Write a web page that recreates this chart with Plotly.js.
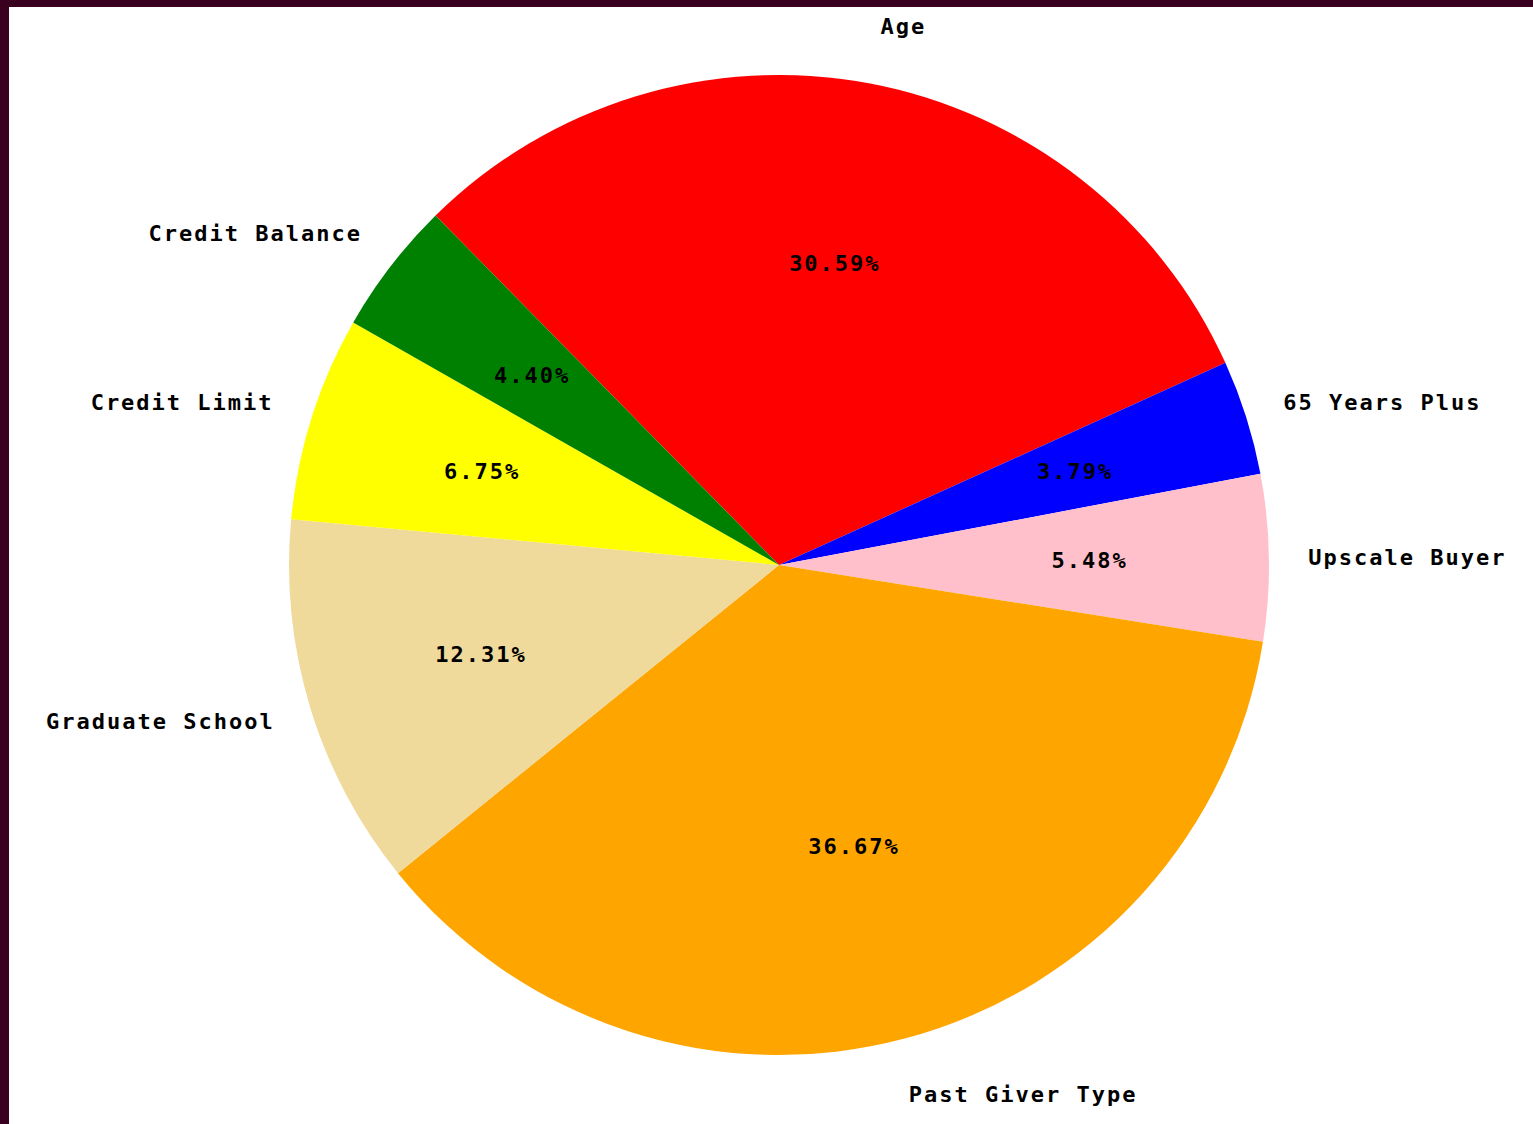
<!DOCTYPE html>
<html>
<head>
<meta charset="utf-8">
<script src="https://cdn.plot.ly/plotly-3.0.1.min.js"></script>
<style>
  html, body { margin: 0; padding: 0; background: #3a0020; }
  #chart { width: 1533px; height: 1124px; }
  #chart text { letter-spacing: 2px; }
</style>
</head>
<body>
<div id="chart"></div>
<script>
// Data
const categories = ["Age", "65 Years Plus", "Upscale Buyer", "Past Giver Type", "Graduate School", "Credit Limit", "Credit Balance"];
const shares = [30.59, 3.79, 5.48, 36.67, 12.31, 6.75, 4.40];
const sliceColors = ["#FF0000", "#0000FF", "#FFC0CB", "#FFA500", "#EFD99B", "#FFFF00", "#008000"];

const W = 1533, H = 1124;
const cx = 779, cy = 565;
const rPie = 490, rLab = 536, rText = 311;
const startRotation = -44.5;
const fontFam = "'DejaVu Sans Mono', 'Liberation Mono', monospace";
const textFont = { family: fontFam, size: 22, color: "#000000", weight: "bold" };
const clear = categories.map(() => "rgba(0,0,0,0)");

function dom(r) {
  return {
    x: [Math.max(0, (cx - r) / W), Math.min(1, (cx + r) / W)],
    y: [Math.max(0, 1 - (cy + r) / H), Math.min(1, 1 - (cy - r) / H)]
  };
}
function basePie(r) {
  return {
    type: "pie",
    labels: categories,
    values: shares,
    sort: false,
    direction: "clockwise",
    rotation: startRotation,
    domain: dom(r),
    hoverinfo: "none",
    showlegend: false
  };
}

const traces = [];

// coloured slices
traces.push(Object.assign(basePie(rPie), {
  marker: { colors: sliceColors, line: { width: 0 } },
  textinfo: "none"
}));

// category labels outside the pie
traces.push(Object.assign(basePie(rLab), {
  marker: { colors: clear, line: { width: 0 } },
  textinfo: "label",
  textposition: "outside",
  outsidetextfont: textFont
}));

// percentage labels: one transparent ring per slice, sized so the text
// sits at a common distance from the centre
const total = shares.reduce((a, b) => a + b, 0);
categories.forEach((c, i) => {
  const half = Math.PI * shares[i] / total;
  const rIns = Math.min(1 / (1 + 1 / Math.sin(half)), 0.5);
  const rT = Math.min(rText / (1 - rIns), H - cy - 1);
  traces.push(Object.assign(basePie(rT), {
    marker: { colors: clear, line: { width: 0 } },
    texttemplate: categories.map((_, j) => (j === i ? "%{percent:.2%}" : "")),
    textposition: "inside",
    insidetextorientation: "horizontal",
    insidetextfont: textFont
  }));
});

const layout = {
  width: W,
  height: H,
  margin: { l: 0, r: 0, t: 0, b: 0 },
  paper_bgcolor: "#3a0020",
  showlegend: false,
  uniformtext: { mode: "show", minsize: 22 },
  shapes: [{
    type: "rect", xref: "paper", yref: "paper", layer: "below",
    x0: 9 / W, x1: 1, y0: 0, y1: 1 - 7 / H,
    fillcolor: "#FFFFFF", line: { width: 0 }
  }]
};

Plotly.newPlot("chart", traces, layout, { displayModeBar: false, staticPlot: true });
</script>
</body>
</html>
